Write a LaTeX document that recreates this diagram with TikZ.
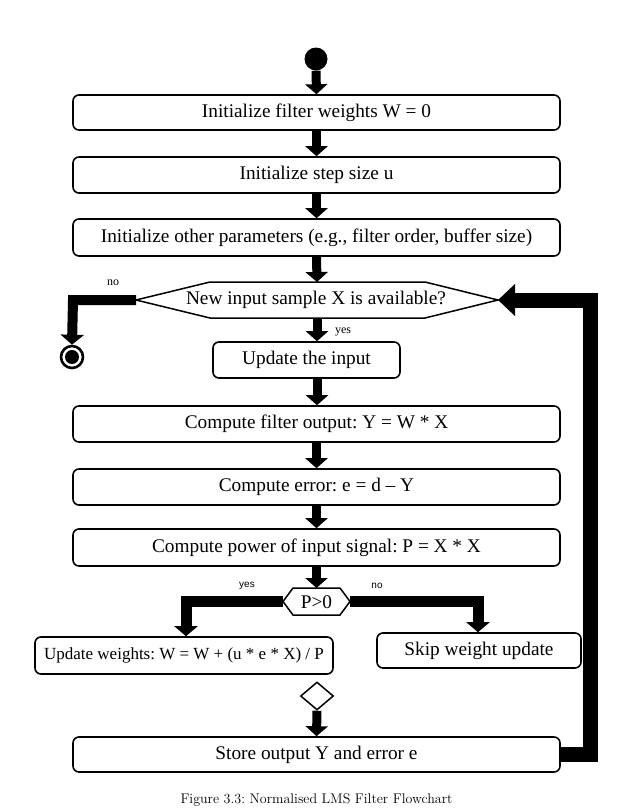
\documentclass[tikz,border=0pt]{standalone}
\usepackage{fontspec}
\newfontfamily\tnr{Liberation Serif}
\newfontfamily\arl{Liberation Sans}
\usetikzlibrary{arrows.meta,shapes.geometric}
\frenchspacing
\begin{document}
\begin{tikzpicture}[x=1pt,y=-1pt,
  box/.style={draw,line width=1.6pt,rounded corners=6pt,minimum width=487pt,minimum height=35pt,inner sep=0pt,font=\tnr\fontsize{19.3}{22}\selectfont},
  hexline/.style={draw,line width=1.5pt,line join=miter},
  hextext/.style={inner sep=0pt,font=\tnr\fontsize{19.3}{22}\selectfont},
  flow/.style={line width=9pt,-{Triangle[width=22pt,length=10pt]}},
  sideflow/.style={line width=11pt,line join=miter,-{Triangle[width=23pt,length=10pt]}},
  loopflow/.style={line width=15pt,line join=miter,-{Triangle[width=31pt,length=17pt]}},
  lblserif/.style={font=\tnr\fontsize{12}{14}\selectfont,inner sep=0pt},
  lblsans/.style={font=\arl\fontsize{10}{12}\selectfont,inner sep=0pt}]
\useasboundingbox (0,0) rectangle (617,812);

% start
\node[circle,fill=black,minimum size=23pt,inner sep=0pt] (start) at (316,59) {};

% boxes
\node[box] (b1) at (316.5,112.5) {Initialize filter weights W = 0};
\node[box,minimum height=36pt] (b2) at (316.5,175) {Initialize step size u};
\node[box,minimum height=37pt] (b3) at (316.5,237.5) {Initialize other parameters (e.g., filter order, buffer size)};

% decision 1 (hexagon)
\coordinate (q1w) at (136,300);
\coordinate (q1e) at (498,300);
\coordinate (q1s) at (317,318);
\coordinate (q1n) at (317,282);
\draw[hexline] (q1w) -- (210,282) -- (425,282) -- (q1e) -- (425,318) -- (210,318) -- cycle;
\node[hextext] (q1) at (316,300) {New input sample X is available?};

% end circle
\node[circle,draw,line width=2.6pt,minimum size=22pt,inner sep=0pt] (end) at (72,357) {};
\fill (end.center) circle (7pt);

\node[box,minimum width=187pt,minimum height=36pt] (upd) at (306.5,360) {Update the input};
\node[box,minimum height=36pt] (cf) at (316.5,424) {Compute filter output: Y = W * X};
\node[box,minimum height=36pt] (err) at (316.5,487) {Compute error: e = d – Y};
\node[box,minimum height=37pt] (pow) at (316.5,547.5) {Compute power of input signal: P = X * X};

% decision 2
\coordinate (pw) at (283,601.5);
\coordinate (pe) at (350,601.5);
\coordinate (pn) at (316.5,588);
\draw[hexline] (pw) -- (293,588) -- (340,588) -- (pe) -- (340,615) -- (293,615) -- cycle;
\node[hextext] (p) at (316.5,602) {P>0};

\node[box,minimum width=298pt,minimum height=37pt,font=\tnr\fontsize{17}{20}\selectfont] (lbox) at (184,655.5) {Update weights: W = W + (u * e * X) / P};
\node[box,minimum width=204pt,minimum height=35pt] (rbox) at (479,650.5) {Skip weight update};

\node[diamond,draw,line width=1.5pt,minimum width=33pt,minimum height=28pt,inner sep=0pt] (dia) at (317,696) {};

\node[box] (store) at (316.5,754.5) {Store output Y and error e};

% connectors
\draw[flow] (start.south) -- (b1.north);
\draw[flow] (b1.south) -- (b2.north);
\draw[flow] (b2.south) -- (b3.north);
\draw[flow] (b3.south) -- (q1n);
\coordinate (c1) at (73,300);
\draw[sideflow,line width=10pt] (q1w) -- (c1) -- (end.north);
\draw[flow] (q1s) -- (q1s |- upd.north);
\draw[flow] (q1s |- upd.south) -- (q1s |- cf.north);
\draw[flow] (cf.south) -- (err.north);
\draw[flow] (err.south) -- (pow.north);
\draw[flow] (pow.south) -- (pn);
\coordinate (p1) at (186,601.5);
\coordinate (p2) at (478,601.5);
\draw[sideflow] (pw) -- (p1) -- (p1 |- lbox.north);
\draw[sideflow] (pe) -- (p2) -- (p2 |- rbox.north);
\draw[flow] (dia.south) -- (store.north);
\coordinate (l1) at (590,754.5);
\coordinate (l2) at (590,300);
\draw[loopflow] (store.east) -- (l1) -- (l2) -- (q1e);

% labels
\node[lblserif] (lno) at (113,283) {no};
\node[lblserif] (lyes) at (343,332) {yes};
\node[lblsans] (lyes2) at (247,586) {yes};
\node[lblsans] (lno2) at (377,586) {no};

% caption
\node[font=\fontsize{14}{16}\selectfont,inner sep=0pt] (cap) at (316.5,800) {Figure 3.3: Normalised LMS Filter Flowchart};
\end{tikzpicture}
\end{document}
